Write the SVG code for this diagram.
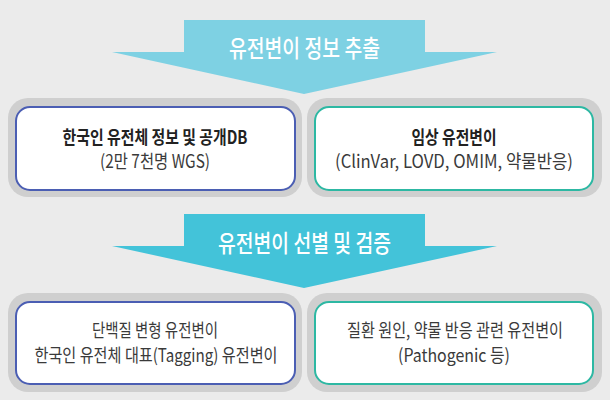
<svg xmlns="http://www.w3.org/2000/svg" width="610" height="400" viewBox="0 0 610 400">
<style>
.frame{fill:#CFCFCF}
.boxL{fill:#FFFFFF;stroke:#4B5EB3;stroke-width:2}
.boxR{fill:#FFFFFF;stroke:#2DB8A3;stroke-width:2}
.t{font-family:"Noto Sans CJK KR","Noto Sans",sans-serif;fill:#3A3A3A;text-anchor:middle}
.b{font-weight:bold;font-size:18px;fill:#222}
.r{font-size:18px}
.at{font-family:"Noto Sans CJK KR","Noto Sans",sans-serif;fill:#FFFFFF;text-anchor:middle;font-size:24px;font-weight:500}
</style>
<rect width="610" height="400" fill="#EBEBEB"/>
<g id="node-korean-db">
<rect class="frame" x="8" y="98" width="294" height="99" rx="20"/>
<rect class="boxL" x="16" y="107" width="279" height="83" rx="14"/>
<text class="t b" x="155" y="144" textLength="185" lengthAdjust="spacingAndGlyphs">한국인 유전체 정보 및 공개DB</text>
<text class="t r" x="155" y="168" textLength="110" lengthAdjust="spacingAndGlyphs">(2만 7천명 WGS)</text>
</g>
<g id="node-clinical">
<rect class="frame" x="307" y="98" width="295" height="99" rx="20"/>
<rect class="boxR" x="315" y="107" width="278" height="83" rx="14"/>
<text class="t b" x="454" y="144" textLength="85" lengthAdjust="spacingAndGlyphs">임상 유전변이</text>
<text class="t r" x="454" y="168" textLength="238" lengthAdjust="spacingAndGlyphs">(ClinVar, LOVD, OMIM, 약물반응)</text>
</g>
<g id="node-protein">
<rect class="frame" x="8" y="293" width="294" height="99" rx="20"/>
<rect class="boxL" x="16" y="302" width="279" height="82" rx="14"/>
<text class="t r" x="155" y="337" textLength="126" lengthAdjust="spacingAndGlyphs">단백질 변형 유전변이</text>
<text class="t r" x="156" y="362" textLength="243" lengthAdjust="spacingAndGlyphs">한국인 유전체 대표(Tagging) 유전변이</text>
</g>
<g id="node-disease">
<rect class="frame" x="307" y="293" width="295" height="99" rx="20"/>
<rect class="boxR" x="315" y="302" width="278" height="82" rx="14"/>
<text class="t r" x="455" y="337" textLength="216" lengthAdjust="spacingAndGlyphs">질환 원인, 약물 반응 관련 유전변이</text>
<text class="t r" x="454" y="362" textLength="112" lengthAdjust="spacingAndGlyphs">(Pathogenic 등)</text>
</g>
<g id="connectors">
<g id="arrow-extract">
<polygon points="184,20 425,20 425,52 497,52 304,94 112,52 184,52" fill="#7ED1E3"/>
<text class="at" x="304.5" y="57" textLength="151" lengthAdjust="spacingAndGlyphs">유전변이 정보 추출</text>
</g>
<g id="arrow-select">
<polygon points="184,214 425,214 425,246 497,246 304,288 112,246 184,246" fill="#43C3D9"/>
<text class="at" x="304.5" y="252" textLength="173" lengthAdjust="spacingAndGlyphs">유전변이 선별 및 검증</text>
</g>
</g>
</svg>
